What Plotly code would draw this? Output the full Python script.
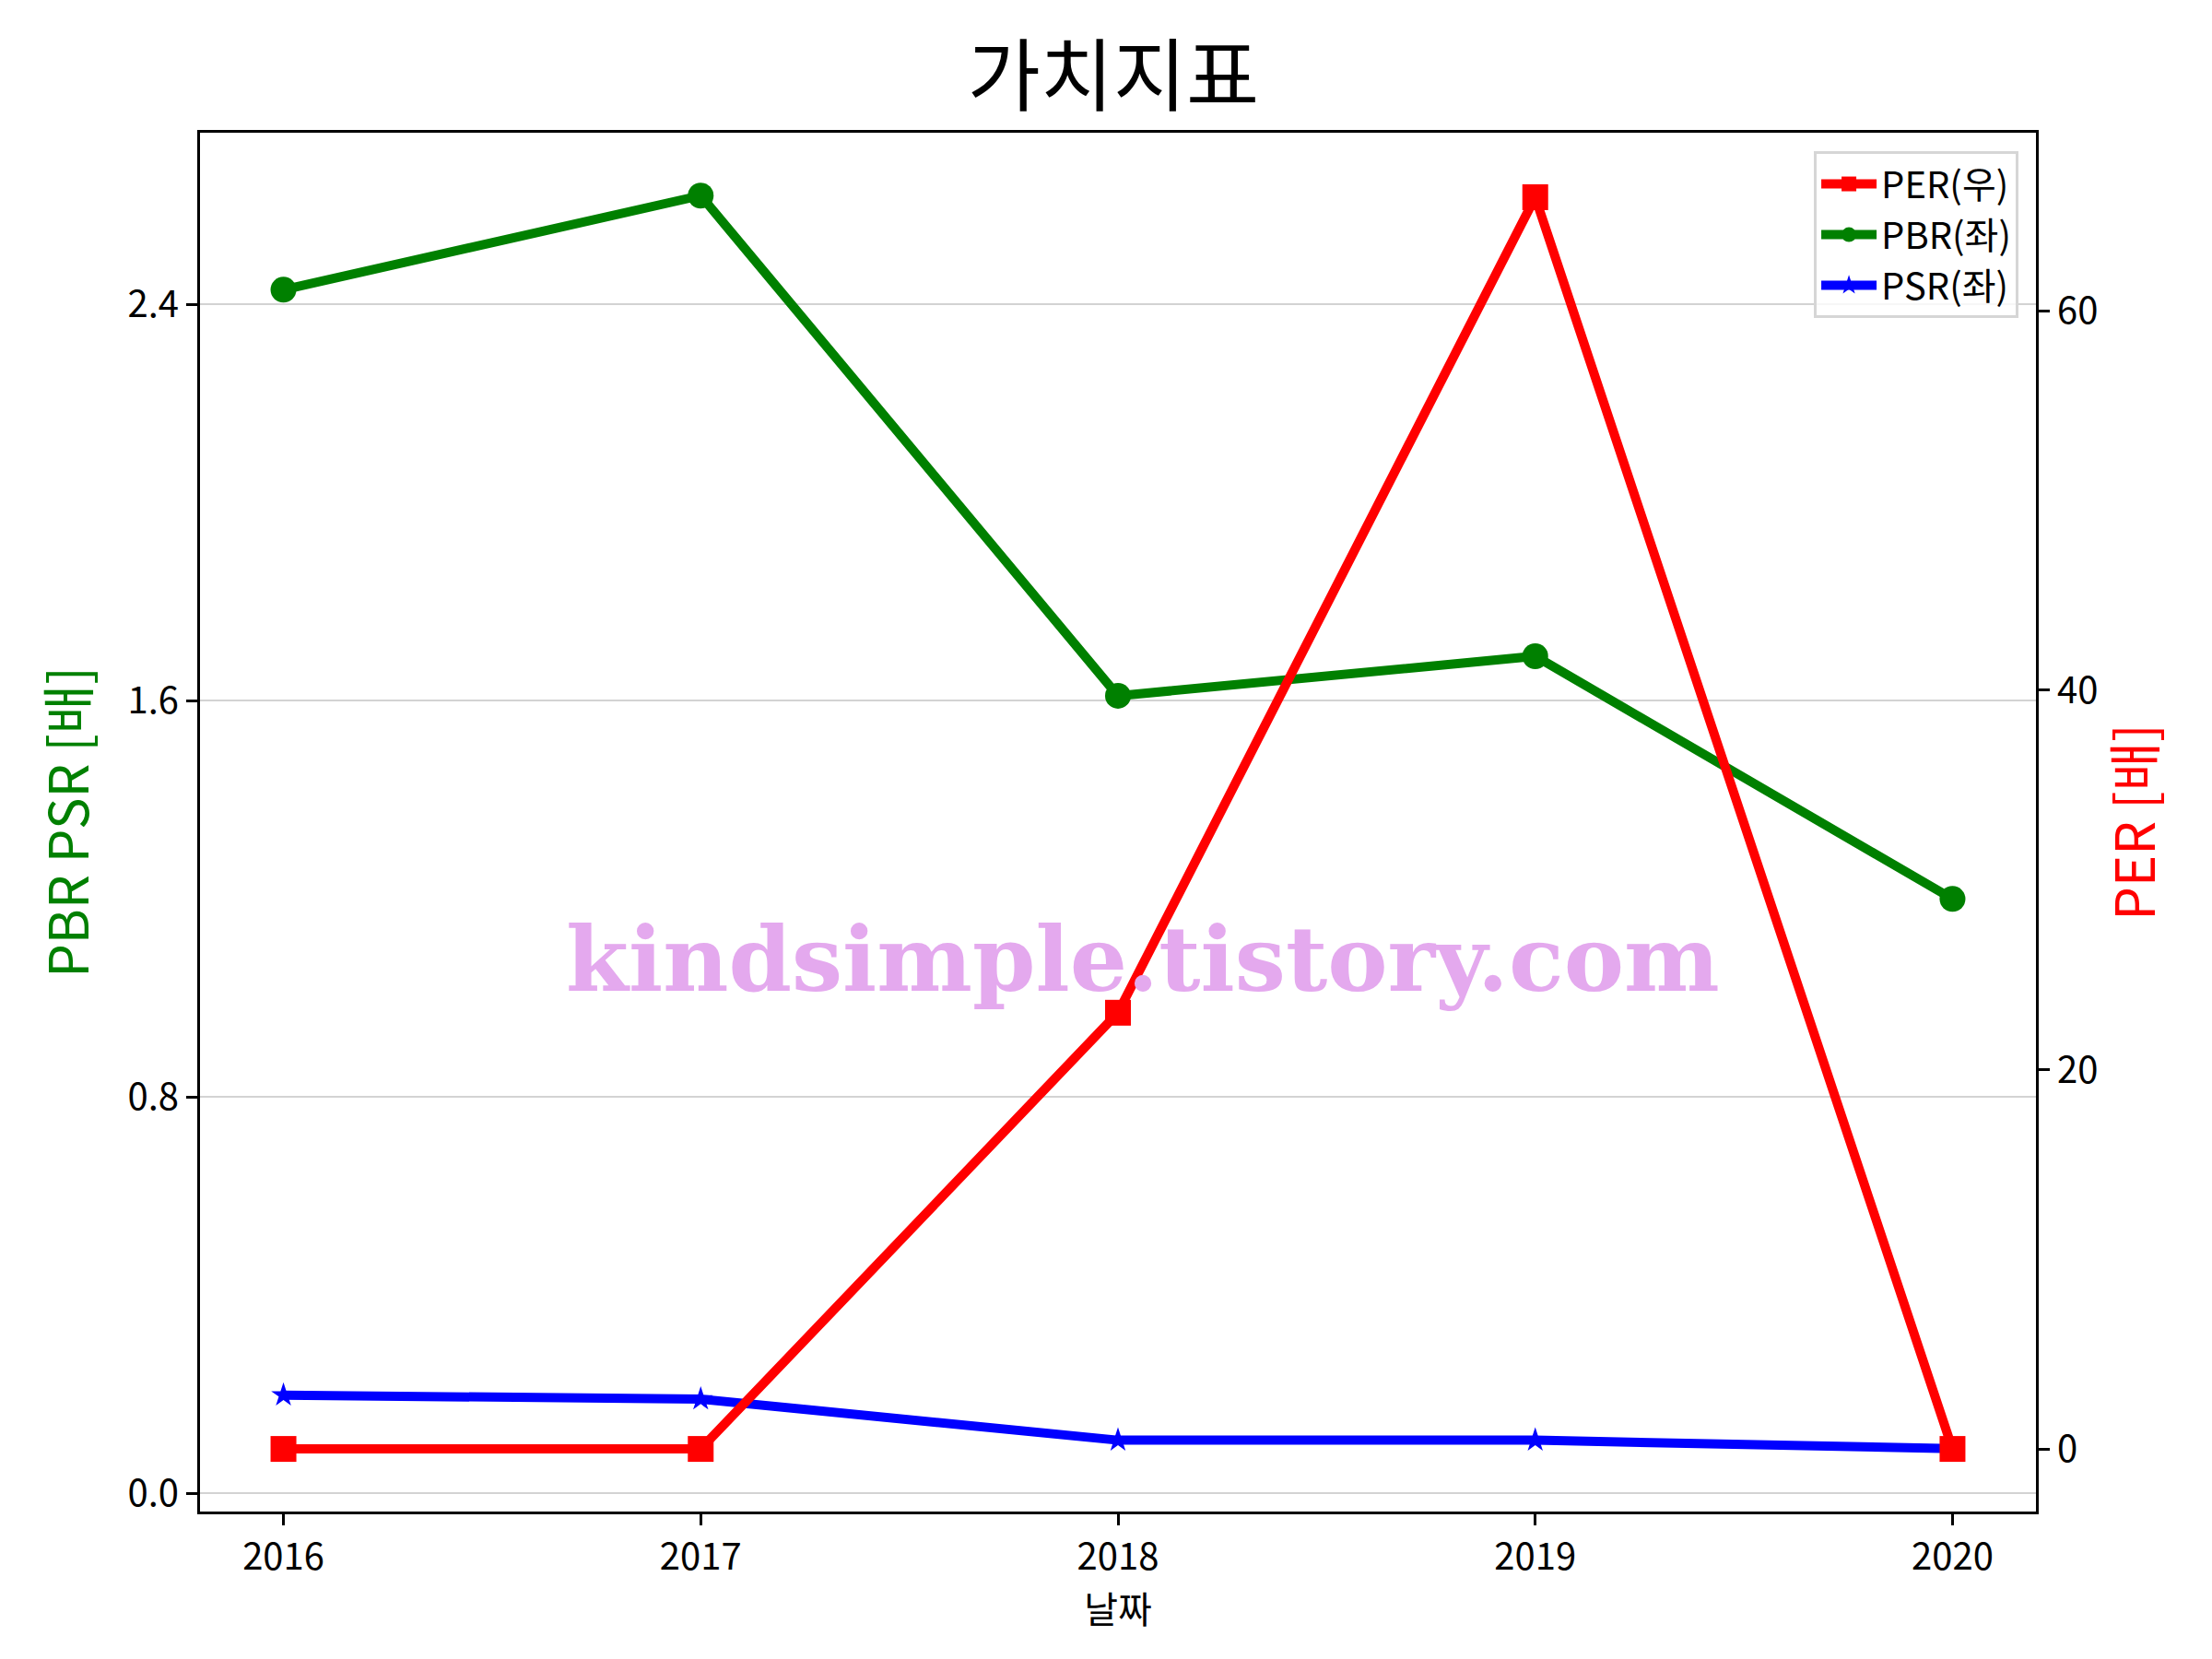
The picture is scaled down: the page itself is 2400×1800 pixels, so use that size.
import plotly.graph_objects as go

years = [2016, 2017, 2018, 2019, 2020]
per = [0.0, 0.0, 23.0, 66.0, 0.0]
pbr = [2.43, 2.62, 1.61, 1.69, 1.20]
psr = [0.198, 0.190, 0.107, 0.107, 0.090]

left_ticks = [0.0, 0.8, 1.6, 2.4]
right_ticks = [0, 20, 40, 60]

FONT = "Noto Sans CJK KR"

fig = go.Figure()
fig.add_trace(go.Scatter(x=years, y=per, name="PER(우)", yaxis="y2",
                         mode="lines+markers",
                         line=dict(color="red", width=10),
                         marker=dict(symbol="square", size=28, color="red")))
fig.add_trace(go.Scatter(x=years, y=pbr, name="PBR(좌)",
                         mode="lines+markers",
                         line=dict(color="green", width=10),
                         marker=dict(symbol="circle", size=28, color="green")))
fig.add_trace(go.Scatter(x=years, y=psr, name="PSR(좌)",
                         mode="lines+markers",
                         line=dict(color="blue", width=10),
                         marker=dict(symbol="star", size=20, color="blue")))

axis_common = dict(showline=True, linecolor="black", linewidth=3,
                   ticks="outside", tickcolor="black", ticklen=12, tickwidth=3,
                   tickfont=dict(size=40, color="black"), zeroline=False)

fig.update_layout(
    width=2400, height=1800,
    paper_bgcolor="white", plot_bgcolor="white",
    font=dict(family=FONT, color="black"),
    margin=dict(l=209, r=199, t=136, b=168),
    title=dict(text="가치지표", x=0.5, xanchor="center", y=0.958, yanchor="middle",
               font=dict(size=86, color="black")),
    xaxis=dict(range=[2015.8, 2020.2], tickvals=years,
               title=dict(text="날짜", font=dict(size=40), standoff=4),
               mirror=True, showgrid=False, **axis_common),
    yaxis=dict(range=[-0.037, 2.747], tickvals=left_ticks, tickformat=".1f",
               title=dict(text="PBR PSR [배]", font=dict(size=58, color="green"), standoff=24),
               showgrid=True, gridcolor="#d3d3d3", gridwidth=1.5,
               mirror=True, **axis_common),
    yaxis2=dict(range=[-3.3, 69.4], tickvals=right_ticks, overlaying="y", side="right",
                title=dict(text="PER [배]", font=dict(size=58, color="red"), standoff=22),
                showgrid=False, **axis_common),
    legend=dict(x=0.9905, y=0.9866, xanchor="right", yanchor="top",
                bgcolor="rgba(255,255,255,0.8)", bordercolor="#d6d6d6", borderwidth=3,
                font=dict(size=40), itemwidth=60, tracegroupgap=0),
    showlegend=True,
)

fig.add_annotation(text="<b>kindsimple.tistory.com</b>", xref="paper", yref="paper",
                   x=0.5136, y=0.401, xanchor="center", yanchor="middle", showarrow=False,
                   font=dict(family="DejaVu Serif", size=98, color="#e4a9ee"))

fig.write_html("out.html")
